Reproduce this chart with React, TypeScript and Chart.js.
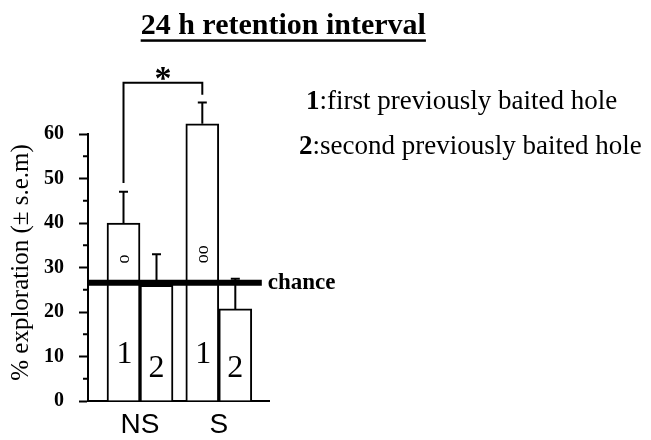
import React, { useEffect, useRef } from 'react';
import { Chart, registerables } from 'chart.js';

Chart.register(...registerables);

// ---- data ----
const categories = ['NS', 'S'];
const hole1 = [40, 62.3];
const hole2 = [26, 20.7];
const hole1Err = [7, 4.8];
const hole2Err = [7, 6.8];
const chanceLevel = 26.6;
const yMin = 0;
const yMax = 60;
const yStep = 10;
const xMin = 0.34;
const xMax = 2.637;
const barLabels = ['1', '2'];
const chanceMarks = ['o', 'oo'];
const chartTitle = '24 h retention interval';
const yTitle = '% exploration (\u00b1 s.e.m)';
const legendKeys = ['1', '2'];
const legendTexts = [':first previously baited hole', ':second previously baited hole'];
const chanceLabel = 'chance';
const sigMark = '*';

const SERIF = '"Liberation Serif", "Times New Roman", serif';
const SANS = '"Liberation Sans", Arial, sans-serif';

const overlay = {
  id: 'overlay',
  afterDatasetsDraw(chart: any) {
    const ctx = chart.ctx;
    const y = chart.scales.y;
    const area = chart.chartArea;
    const m0 = chart.getDatasetMeta(0);
    const m1 = chart.getDatasetMeta(1);
    ctx.save();
    ctx.strokeStyle = '#000';
    ctx.fillStyle = '#000';

    // error bars (upward only)
    const drawErr = (meta: any, vals: number[], errs: number[]) => {
      meta.data.forEach((bar: any, i: number) => {
        const top = y.getPixelForValue(vals[i] + errs[i]);
        ctx.lineWidth = 2;
        ctx.beginPath();
        ctx.moveTo(bar.x, bar.y);
        ctx.lineTo(bar.x, top);
        ctx.moveTo(bar.x - 4.5, top);
        ctx.lineTo(bar.x + 4.5, top);
        ctx.stroke();
      });
    };
    drawErr(m0, hole1, hole1Err);
    drawErr(m1, hole2, hole2Err);

    // numbers inside bars
    ctx.textAlign = 'center';
    ctx.textBaseline = 'alphabetic';
    ctx.font = `32px ${SERIF}`;
    m0.data.forEach((bar: any) => ctx.fillText(barLabels[0], bar.x + 1, y.getPixelForValue(8.5)));
    m1.data.forEach((bar: any) => ctx.fillText(barLabels[1], bar.x, y.getPixelForValue(5.4)));

    // rotated chance markers on hole-1 bars
    ctx.font = `18px ${SERIF}`;
    m0.data.forEach((bar: any, i: number) => {
      const v = i === 0 ? 31.9 : 33.0;
      ctx.save();
      ctx.translate(bar.x + 1, y.getPixelForValue(v));
      ctx.rotate(-Math.PI / 2);
      ctx.textAlign = 'center';
      ctx.textBaseline = 'middle';
      ctx.fillText(chanceMarks[i], 0, 0);
      ctx.restore();
    });

    // chance line
    const last = m1.data[m1.data.length - 1];
    const lineEnd = last.x + last.width / 2 + 10;
    const cy = y.getPixelForValue(chanceLevel);
    ctx.lineWidth = 6;
    ctx.beginPath();
    ctx.moveTo(area.left, cy);
    ctx.lineTo(lineEnd, cy);
    ctx.stroke();
    ctx.font = `bold 23px ${SERIF}`;
    ctx.textAlign = 'left';
    ctx.textBaseline = 'alphabetic';
    ctx.fillText(chanceLabel, lineEnd + 6, cy + 6);

    // significance bracket
    const lx = m0.data[0].x;
    const rx = m0.data[1].x;
    const topY = y.getPixelForValue(71.5);
    const lBottom = y.getPixelForValue(hole1[0] + hole1Err[0] + 2);
    const rBottom = y.getPixelForValue(hole1[1] + hole1Err[1] + 1.7);
    ctx.lineWidth = 2;
    ctx.beginPath();
    ctx.moveTo(lx, lBottom);
    ctx.lineTo(lx, topY);
    ctx.lineTo(rx, topY);
    ctx.lineTo(rx, rBottom);
    ctx.stroke();
    ctx.font = `bold 34px ${SERIF}`;
    ctx.textAlign = 'center';
    const sm = ctx.measureText(sigMark);
    const sCenter = topY - 9.4;
    const base = sCenter + (sm.actualBoundingBoxAscent - sm.actualBoundingBoxDescent) / 2;
    ctx.fillText(sigMark, (lx + rx) / 2, base);

    // minor y ticks
    ctx.lineWidth = 2;
    ctx.beginPath();
    for (let v = yMin + yStep / 2; v < yMax; v += yStep) {
      const py = y.getPixelForValue(v);
      ctx.moveTo(area.left - 5, py);
      ctx.lineTo(area.left, py);
    }
    ctx.stroke();

    // title (bold, underlined)
    ctx.font = `bold 30px ${SERIF}`;
    ctx.textAlign = 'center';
    ctx.textBaseline = 'alphabetic';
    const tx = 283.3;
    ctx.fillText(chartTitle, tx, 34);
    const tw = ctx.measureText(chartTitle).width;
    ctx.fillRect(tx - tw / 2, 39.3, tw, 2.5);

    // y-axis title
    ctx.save();
    ctx.translate(28, 262.5);
    ctx.rotate(-Math.PI / 2);
    ctx.font = `25px ${SERIF}`;
    ctx.textAlign = 'center';
    ctx.textBaseline = 'alphabetic';
    ctx.fillText(yTitle, 0, 0);
    ctx.restore();

    // legend-like text
    const lxs = [306, 299];
    const lys = [109, 154];
    legendKeys.forEach((k, i) => {
      ctx.textAlign = 'left';
      ctx.font = `bold 27px ${SERIF}`;
      ctx.fillText(k, lxs[i], lys[i]);
      const kw = ctx.measureText(k).width;
      ctx.font = `27px ${SERIF}`;
      ctx.fillText(legendTexts[i], lxs[i] + kw, lys[i]);
    });

    ctx.restore();
  },
};

export default function App() {
  const ref = useRef<HTMLCanvasElement | null>(null);
  useEffect(() => {
    if (!ref.current) return;
    const chart = new Chart(ref.current, {
      type: 'bar',
      data: {
        datasets: [
          {
            label: barLabels[0],
            data: hole1.map((v, i) => ({ x: i + 1, y: v })),
            backgroundColor: '#fff',
            borderColor: '#000',
            borderWidth: 2,
            barThickness: 33,
            clip: false,
          },
          {
            label: barLabels[1],
            data: hole2.map((v, i) => ({ x: i + 1, y: v })),
            backgroundColor: '#fff',
            borderColor: '#000',
            borderWidth: 2,
            barThickness: 33,
            clip: false,
          },
        ],
      },
      options: {
        responsive: false,
        animation: false,
        devicePixelRatio: 1,
        layout: { padding: { left: 0, right: 382, top: 134, bottom: 0 } },
        plugins: { legend: { display: false }, tooltip: { enabled: false }, title: { display: false } },
        scales: {
          x: {
            type: 'linear',
            min: xMin,
            max: xMax,
            offset: false,
            grid: { display: false, drawTicks: false, drawOnChartArea: false },
            border: { display: true, color: '#000', width: 2 },
            afterBuildTicks: (s: any) => {
              s.ticks = categories.map((_, i) => ({ value: i + 1 }));
            },
            afterFit: (s: any) => {
              s.height = 39;
            },
            ticks: {
              autoSkip: false,
              maxRotation: 0,
              padding: 7,
              color: '#000',
              font: { family: SANS, size: 28 },
              callback: (v: any) => categories[Math.round(v) - 1] ?? '',
            },
          },
          y: {
            type: 'linear',
            min: yMin,
            max: yMax,
            grid: {
              display: true,
              drawOnChartArea: false,
              drawTicks: true,
              tickLength: 9,
              tickWidth: 2,
              tickColor: '#000',
              color: '#000',
            },
            border: { display: true, color: '#000', width: 2 },
            afterFit: (s: any) => {
              s.width = 88;
            },
            ticks: {
              stepSize: yStep,
              padding: 15,
              color: '#000',
              font: { family: SERIF, size: 20, weight: 'bold' },
            },
          },
        },
      },
      plugins: [overlay],
    });
    return () => chart.destroy();
  }, []);
  return (
    <div style={{ position: 'absolute', left: 0, top: 0, width: 651, height: 440, background: '#fff' }}>
      <canvas ref={ref} width={651} height={440} style={{ display: 'block' }} />
    </div>
  );
}
